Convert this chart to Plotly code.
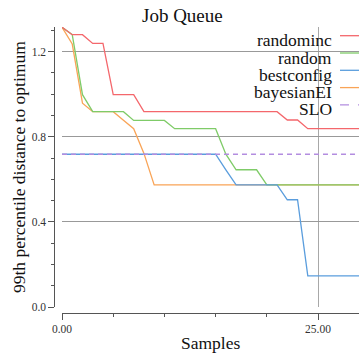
import plotly.graph_objects as go

samples = list(range(30))
randominc = [1.315, 1.28, 1.28, 1.239, 1.239, 0.998, 0.998, 0.998] + [0.918] * 14 + [0.879, 0.879] + [0.838] * 6
random_ = [1.315, 1.28, 0.998, 0.918, 0.918, 0.918, 0.918, 0.877, 0.877, 0.877, 0.877,
           0.838, 0.838, 0.838, 0.838, 0.838, 0.718, 0.645, 0.645, 0.645] + [0.574] * 10
bestconfig = [0.718] * 16 + [0.645, 0.574, 0.574, 0.574, 0.574, 0.574, 0.504, 0.504] + [0.146] * 6
bayesianEI = [1.315, 1.236, 0.958, 0.918, 0.918, 0.918, 0.878, 0.838, 0.722] + [0.574] * 21
slo = [0.718] * 30

series_names = ["randominc", "random", "bestconfig", "bayesianEI", "SLO"]
series_values = [randominc, random_, bestconfig, bayesianEI, slo]
colors = ["#f4676c", "#7fcb68", "#5a9ddd", "#f9a457", "#b38de0"]
dashes = ["solid", "solid", "solid", "solid", "5px,4px"]

W, H = 359, 353
ML, MR, MT, MB = 50, 0, 27, 33
PW, PH = W - ML - MR, H - MT - MB


def px(x):
    return (x - ML) / PW


def py(y):
    return (H - MB - y) / PH


FONT = "Liberation Serif"
TXT = "#111"

fig = go.Figure()
order = [3, 1, 0, 2, 4]
for i in order:
    fig.add_trace(go.Scatter(
        x=samples, y=series_values[i], mode="lines", name=series_names[i],
        line=dict(color=colors[i], width=1.3, dash=dashes[i]),
        showlegend=False, hoverinfo="skip"))

annotations = [
    dict(text="Job Queue", x=px(182), y=py(15), xref="paper", yref="paper",
         xanchor="center", yanchor="middle", showarrow=False,
         font=dict(family=FONT, size=19, color=TXT)),
    dict(text="Samples", x=px(210), y=py(343), xref="paper", yref="paper",
         xanchor="center", yanchor="middle", showarrow=False,
         font=dict(family=FONT, size=17.5, color=TXT)),
    dict(text="99th percentile distance to optimum", x=px(19), y=py(167),
         xref="paper", yref="paper", xanchor="center", yanchor="middle",
         textangle=-90, showarrow=False,
         font=dict(family=FONT, size=17.5, color=TXT)),
]
shapes = []
for k, name in enumerate(series_names):
    ly = 35.7 + 17.3 * k
    annotations.append(dict(text=name, x=px(334), y=py(ly + 4.5), xref="paper", yref="paper",
                            xanchor="right", yanchor="middle", showarrow=False,
                            font=dict(family=FONT, size=17.5, color=TXT)))
    shapes.append(dict(type="line", xref="paper", yref="paper",
                       x0=px(340), x1=px(362), y0=py(ly), y1=py(ly),
                       line=dict(color=colors[k], width=1.3,
                                 dash="dash" if dashes[k] != "solid" else "solid")))

fig.update_layout(
    width=W, height=H,
    margin=dict(l=ML, r=MR, t=MT, b=MB),
    paper_bgcolor="white", plot_bgcolor="white",
    annotations=annotations, shapes=shapes,
    showlegend=False,
    xaxis=dict(
        domain=[px(62), 1], anchor="free", position=py(312.5),
        range=[0, 29], tickvals=[0, 25], tickformat=".2f",
        showgrid=True, gridcolor="#a8a8a8", gridwidth=1.2, zeroline=False,
        showline=True, linecolor="#555", linewidth=1,
        ticks="outside", ticklen=6, tickcolor="#555",
        tickfont=dict(family=FONT, size=11.5, color="#333"),
        minor=dict(dtick=5, tick0=0, ticks="outside", ticklen=3, tickcolor="#555", showgrid=False),
    ),
    yaxis=dict(
        domain=[py(307), 1], anchor="free", position=px(54.3),
        range=[0, 1.316], tickvals=[0, 0.4, 0.8, 1.2], tickformat=".1f",
        showgrid=True, gridcolor="#999", gridwidth=1, zeroline=False,
        showline=True, linecolor="#555", linewidth=1,
        ticks="outside", ticklen=6, tickcolor="#555",
        tickfont=dict(family=FONT, size=11.5, color="#333"),
        minor=dict(dtick=0.1, tick0=0, ticks="outside", ticklen=3, tickcolor="#555", showgrid=False),
    ),
)

fig.write_html("out.html", config={"displayModeBar": False},
               post_script="document.body.style.margin='0';document.body.style.padding='0';")
